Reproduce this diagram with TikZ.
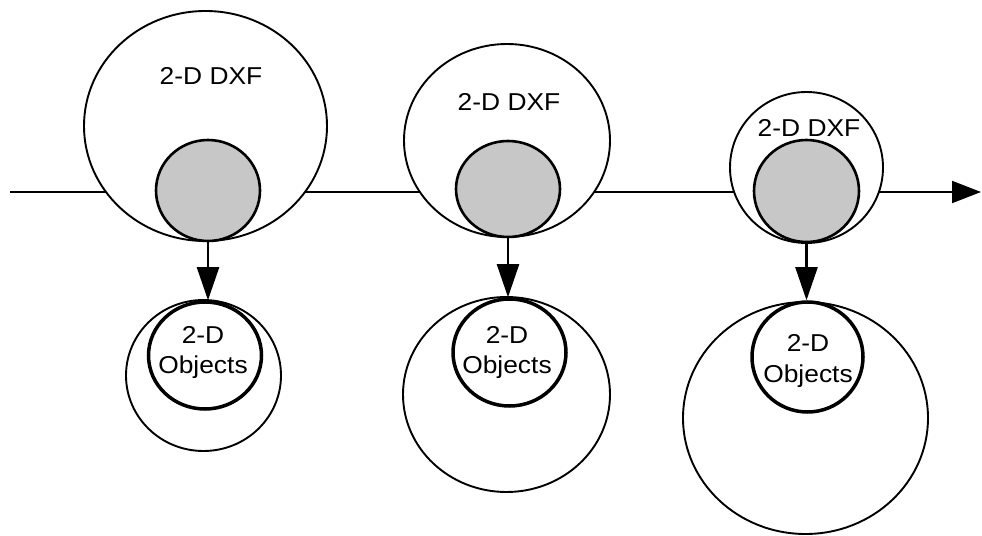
\documentclass[tikz,border=0pt]{standalone}
\usepackage{fontspec}
\setmainfont{Liberation Sans}[FakeStretch=1.08]
\usetikzlibrary{positioning, arrows.meta, shapes.geometric}

\begin{document}
\begin{tikzpicture}[
    x=1bp, y=-1bp,
    bigset/.style={draw, ellipse, fill=white, line width=1.9bp, inner sep=0pt},
    core/.style={draw, ellipse, fill=black!22, line width=2.6bp, inner sep=0pt},
    hull/.style={draw, ellipse, fill=white, line width=1.9bp, inner sep=0pt},
    objset/.style={draw, ellipse, fill=white, line width=3.5bp, inner sep=0pt},
    lbl/.style={font=\fontsize{24.5}{31}\selectfont, inner sep=0pt, align=center},
    arr/.style={-{Triangle[length=33bp, width=22bp]}, line width=2.2bp},
    timeline/.style={-{Triangle[length=29bp, width=22bp]}, line width=2bp}
]
\useasboundingbox (0,0) rectangle (982,536);

% ---- time axis ----
\coordinate (t0) at (10,192);
\coordinate (t1) at (981,192);
\draw[timeline] (t0) -- (t1);

% ---- Stage 1 ----
\node[bigset, minimum width=243bp, minimum height=230bp] (dxf1) at (205.5,126) {};
\node[lbl] (dxf1l) at (211,75.5) {2-D DXF};
\node[core, minimum width=104bp, minimum height=101bp] (core1) at (208,190.5) {};
\node[hull, minimum width=155bp, minimum height=151bp] (hull1) at (203.5,375.5) {};
\node[objset, minimum width=113bp, minimum height=107bp] (obj1) at (205,355.5) {};
\node[lbl] (obj1l) at (203,352.5) {2-D\\Objects};
\draw[arr] (core1.south) -- (core1.south |- obj1.north);

% ---- Stage 2 ----
\node[bigset, minimum width=206bp, minimum height=193bp] (dxf2) at (507,140.5) {};
\node[lbl] (dxf2l) at (509,101.5) {2-D DXF};
\node[core, minimum width=104bp, minimum height=96bp] (core2) at (508,189) {};
\node[hull, minimum width=207bp, minimum height=195bp] (hull2) at (506.5,394.5) {};
\node[objset, minimum width=113bp, minimum height=107bp] (obj2) at (509.5,352.5) {};
\node[lbl] (obj2l) at (507,352.5) {2-D\\Objects};
\draw[arr] (core2.south) -- (core2.south |- obj2.north);

% ---- Stage 3 ----
\node[bigset, minimum width=153bp, minimum height=151bp] (dxf3) at (806.5,167.5) {};
\node[lbl] (dxf3l) at (809,127.5) {2-D DXF};
\node[core, minimum width=105bp, minimum height=102bp] (core3) at (806.5,191) {};
\node[hull, minimum width=245bp, minimum height=232bp] (hull3) at (805.5,418) {};
\node[objset, minimum width=111bp, minimum height=110bp] (obj3) at (807.5,357) {};
\node[lbl] (obj3l) at (808,361) {2-D\\Objects};
\draw[arr] (core3.south) -- (core3.south |- obj3.north);

\end{tikzpicture}
\end{document}
